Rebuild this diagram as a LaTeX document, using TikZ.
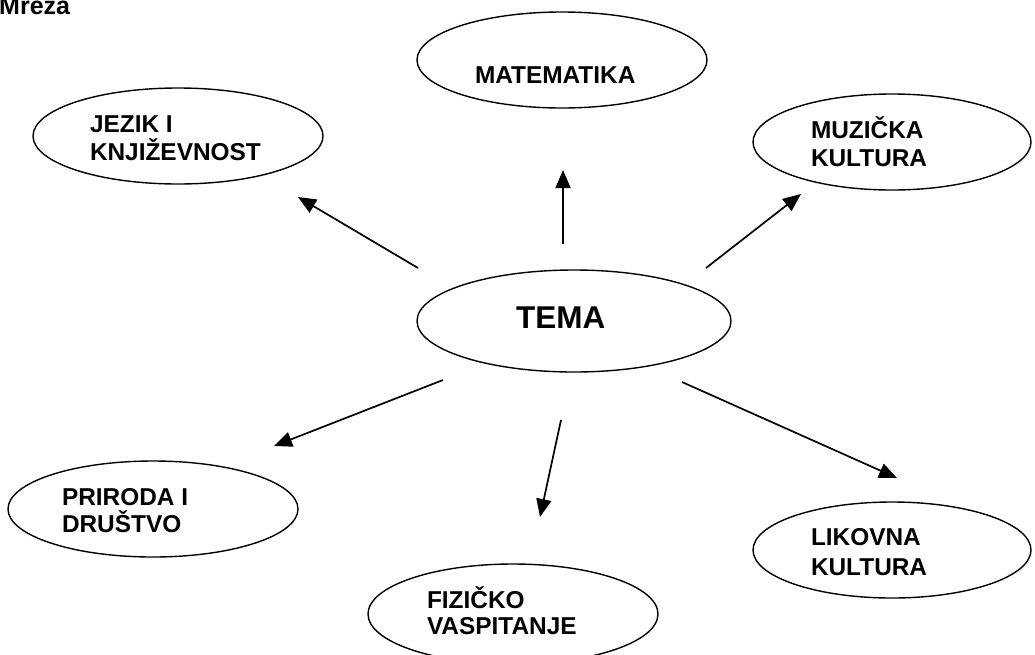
\documentclass[tikz,border=0pt]{standalone}
\usepackage{fontspec}
\setmainfont{Liberation Sans}
\usetikzlibrary{shapes.geometric,arrows.meta}
\begin{document}
\begin{tikzpicture}[x=1pt,y=-1pt,
  bubble/.style={draw=black,line width=1.4pt,ellipse,inner sep=0pt,outer sep=0pt},
  lbl/.style={anchor=base west,inner sep=0pt,outer sep=0pt,font=\fontsize{24.4}{28}\selectfont\bfseries},
  biglbl/.style={anchor=base west,inner sep=0pt,outer sep=0pt,font=\fontsize{31.5}{36}\selectfont\bfseries},
  conn/.style={line width=1.7pt,-{Triangle[length=18pt,width=15pt]}}]
\useasboundingbox (0,0) rectangle (1035,654);
\clip (0,0) rectangle (1035,654);
\fill[white] (0,0) rectangle (1035,654);
% title
\node[anchor=base west,inner sep=0pt,font=\fontsize{25}{30}\selectfont\bfseries] (title) at (-1,14) {Mreža};
% ellipses
\node[bubble,minimum width=290pt,minimum height=96pt] (mat) at (562,60) {};
\node[bubble,minimum width=290pt,minimum height=96pt] (jez) at (178,136) {};
\node[bubble,minimum width=278pt,minimum height=96pt] (muz) at (892,142) {};
\node[bubble,minimum width=314pt,minimum height=102pt] (tema) at (574,321) {};
\node[bubble,minimum width=290pt,minimum height=96pt] (pri) at (153,509) {};
\node[bubble,minimum width=290pt,minimum height=100pt] (fiz) at (513,614) {};
\node[bubble,minimum width=278pt,minimum height=96pt] (lik) at (892,550) {};
% labels
\node[lbl] (matA) at (475,83) {MATEMATIKA};
\node[lbl] (jezA) at (90,132) {JEZIK I};
\node[lbl] (jezB) at (90,160) {KNJIŽEVNOST};
\node[lbl] (muzA) at (811,138) {MUZIČKA};
\node[lbl] (muzB) at (811,166) {KULTURA};
\node[biglbl] (temaA) at (516,328) {TEMA};
\node[lbl] (priA) at (62,505) {PRIRODA I};
\node[lbl] (priB) at (62,532) {DRUŠTVO};
\node[lbl] (fizA) at (427,608) {FIZIČKO};
\node[lbl] (fizB) at (427,634) {VASPITANJE};
\node[lbl] (likA) at (811,545) {LIKOVNA};
\node[lbl] (likB) at (811,575) {KULTURA};
% connector ends
\coordinate (t1) at (418,268); \coordinate (h1) at (298,197);
\coordinate (t2) at (563,244); \coordinate (h2) at (563,170);
\coordinate (t3) at (706,268); \coordinate (h3) at (801,194);
\coordinate (t4) at (443,380); \coordinate (h4) at (274,446);
\coordinate (t5) at (561,420); \coordinate (h5) at (540,517);
\coordinate (t6) at (682,382); \coordinate (h6) at (897,478);
\draw[conn] (t1) -- (h1);
\draw[conn] (t2) -- (h2);
\draw[conn] (t3) -- (h3);
\draw[conn] (t4) -- (h4);
\draw[conn] (t5) -- (h5);
\draw[conn] (t6) -- (h6);
\end{tikzpicture}
\end{document}
